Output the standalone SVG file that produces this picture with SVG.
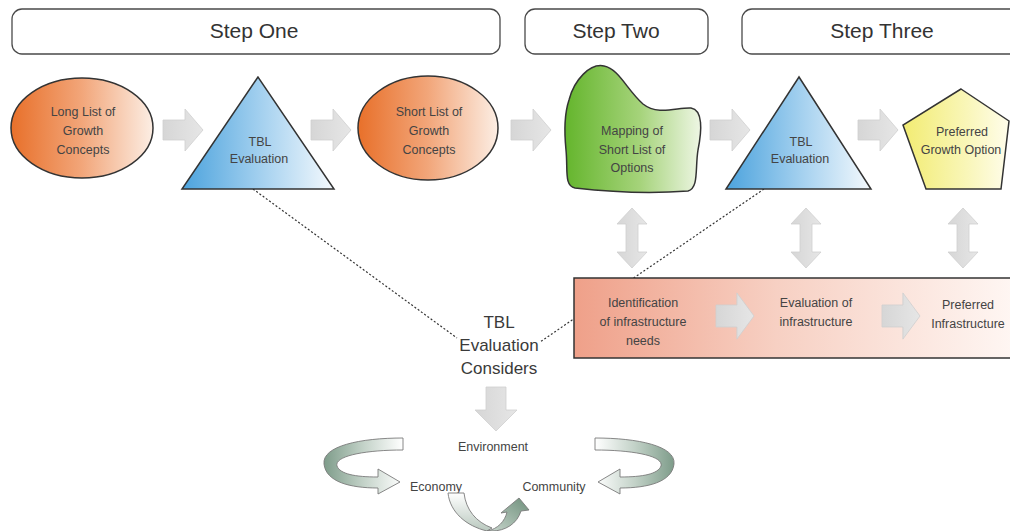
<svg xmlns="http://www.w3.org/2000/svg" width="1010" height="531" viewBox="0 0 1010 531">
  <defs>
    <linearGradient id="gOrange" x1="0" y1="0" x2="1" y2="0">
      <stop offset="0" stop-color="#E8702A"/>
      <stop offset="0.5" stop-color="#F2A67A"/>
      <stop offset="1" stop-color="#FCEEE4"/>
    </linearGradient>
    <linearGradient id="gBlue" x1="0" y1="0" x2="1" y2="0">
      <stop offset="0" stop-color="#4CA3DD"/>
      <stop offset="0.55" stop-color="#A9D3F0"/>
      <stop offset="1" stop-color="#F4F9FD"/>
    </linearGradient>
    <linearGradient id="gGreen" x1="0" y1="0" x2="1" y2="0">
      <stop offset="0" stop-color="#64B52C"/>
      <stop offset="0.55" stop-color="#A5D37A"/>
      <stop offset="1" stop-color="#EEF6E4"/>
    </linearGradient>
    <linearGradient id="gYellow" x1="0" y1="0" x2="1" y2="0">
      <stop offset="0" stop-color="#F2EC72"/>
      <stop offset="0.6" stop-color="#F9F6B8"/>
      <stop offset="1" stop-color="#FFFDEB"/>
    </linearGradient>
    <linearGradient id="gPink" x1="0" y1="0" x2="1" y2="0">
      <stop offset="0" stop-color="#EFA089"/>
      <stop offset="0.45" stop-color="#F7D0C3"/>
      <stop offset="1" stop-color="#FFF8F5"/>
    </linearGradient>
    <linearGradient id="gArrow" x1="0" y1="0" x2="1" y2="0">
      <stop offset="0" stop-color="#D6D6D6"/>
      <stop offset="1" stop-color="#E6E6E6"/>
    </linearGradient>
    <linearGradient id="gRibbon" x1="0" y1="0" x2="1" y2="0">
      <stop offset="0" stop-color="#7E9C8A"/>
      <stop offset="0.5" stop-color="#C3D2C8"/>
      <stop offset="1" stop-color="#FFFFFF"/>
    </linearGradient>
    <linearGradient id="gRibbonLight" x1="0" y1="0" x2="0" y2="1">
      <stop offset="0" stop-color="#FFFFFF"/>
      <stop offset="1" stop-color="#B9C8BE"/>
    </linearGradient>
    <linearGradient id="gRibbonDark" x1="0" y1="1" x2="1" y2="0">
      <stop offset="0" stop-color="#C9D6CD"/>
      <stop offset="1" stop-color="#6F907C"/>
    </linearGradient>
    <!-- flow arrow, pointing right, origin at tail centre -->
    <path id="hArrow" d="M0,-10 L22,-10 L22,-21 L40,0 L22,21 L22,10 L0,10 Z"/>
    <!-- two-way vertical arrow, origin at centre -->
    <path id="vArrow" d="M0,-30 L15,-14 L6,-14 L6,14 L15,14 L0,30 L-15,14 L-6,14 L-6,-14 L-15,-14 Z"/>
  </defs>
  <style>
    .step { fill: #FFFFFF; stroke: #4A4A4A; stroke-width: 1.3; }
    .shape { stroke: #333333; stroke-width: 1.5; }
    .txt { font-family: "Liberation Sans", Arial, sans-serif; fill: #444444; text-anchor: middle; }
    .stepTxt { font-size: 21px; fill: #333333; }
    .nodeTxt { font-size: 12.5px; }
    .big { font-size: 17px; fill: #3A3A3A; }
    .flow { fill: url(#gArrow); stroke: #CFCFCF; stroke-width: 0.8; }
    .dotted { fill: none; stroke: #333333; stroke-width: 1.2; stroke-dasharray: 2 2; }
    .ribbon { stroke: #7A7A7A; stroke-width: 0.9; }
  </style>

  <rect width="1010" height="531" fill="#FFFFFF"/>

  <!-- connectors: dotted links, flow arrows -->
  <g id="connectors">
    <line class="dotted" x1="253" y1="189" x2="457" y2="338"/>
    <line class="dotted" x1="764" y1="189" x2="540" y2="342"/>
    <use href="#hArrow" class="flow" x="163" y="130"/>
    <use href="#hArrow" class="flow" x="311" y="130"/>
    <use href="#hArrow" class="flow" x="511" y="130"/>
    <use href="#hArrow" class="flow" x="710" y="130"/>
    <use href="#hArrow" class="flow" x="858" y="130"/>
    <use href="#vArrow" class="flow" x="632" y="238"/>
    <use href="#vArrow" class="flow" x="806" y="238"/>
    <use href="#vArrow" class="flow" x="963" y="238"/>
    <path class="flow" d="M486,387 L506,387 L506,410 L517,410 L496,431 L475,410 L486,410 Z"/>
  </g>

  <!-- step headers -->
  <g id="step-one">
    <rect class="step" x="12" y="9" width="488" height="45" rx="10"/>
    <text class="txt stepTxt" x="254" y="38">Step One</text>
  </g>
  <g id="step-two">
    <rect class="step" x="525" y="9" width="183" height="45" rx="10"/>
    <text class="txt stepTxt" x="616" y="38">Step Two</text>
  </g>
  <g id="step-three">
    <rect class="step" x="742" y="9" width="290" height="45" rx="10"/>
    <text class="txt stepTxt" x="882" y="38">Step Three</text>
  </g>

  <!-- step one -->
  <g id="long-list">
    <ellipse class="shape" cx="82" cy="128" rx="71" ry="50" fill="url(#gOrange)"/>
    <text class="txt nodeTxt" x="83" y="116">Long List of</text>
    <text class="txt nodeTxt" x="83" y="135">Growth</text>
    <text class="txt nodeTxt" x="83" y="154">Concepts</text>
  </g>
  <g id="tbl-evaluation-1">
    <polygon class="shape" points="258,77 182,189 334,189" fill="url(#gBlue)"/>
    <text class="txt nodeTxt" x="260" y="146">TBL</text>
    <text class="txt nodeTxt" x="259" y="163">Evaluation</text>
  </g>
  <g id="short-list">
    <ellipse class="shape" cx="428" cy="128" rx="70" ry="52" fill="url(#gOrange)"/>
    <text class="txt nodeTxt" x="429" y="116">Short List of</text>
    <text class="txt nodeTxt" x="429" y="135">Growth</text>
    <text class="txt nodeTxt" x="429" y="154">Concepts</text>
  </g>

  <!-- step two -->
  <g id="mapping">
    <path class="shape" fill="url(#gGreen)" d="M569,100 C574,80 590,63 604,66 C619,69 627,90 643,104 C658,116 678,107 691,108 C703,110 702,130 698,150 C695,168 699,188 688,191 C650,194 610,192 575,188 C564,186 568,170 566,150 C564,130 564,115 569,100 Z"/>
    <text class="txt nodeTxt" x="632" y="135" fill="#3D5A2C">Mapping of</text>
    <text class="txt nodeTxt" x="632" y="154" fill="#3D5A2C">Short List of</text>
    <text class="txt nodeTxt" x="632" y="172" fill="#3D5A2C">Options</text>
  </g>

  <!-- step three -->
  <g id="tbl-evaluation-2">
    <polygon class="shape" points="799,77 726,189 871,189" fill="url(#gBlue)"/>
    <text class="txt nodeTxt" x="801" y="146">TBL</text>
    <text class="txt nodeTxt" x="800" y="163">Evaluation</text>
  </g>
  <g id="preferred-growth">
    <polygon class="shape" points="961,89 1009,121 1001,189 926,189 903,125" fill="url(#gYellow)"/>
    <text class="txt nodeTxt" x="962" y="136">Preferred</text>
    <text class="txt nodeTxt" x="961" y="154">Growth Option</text>
  </g>

  <!-- infrastructure band -->
  <g id="infrastructure">
    <rect class="shape" x="574" y="278" width="450" height="80" fill="url(#gPink)" stroke="#444444"/>
    <use href="#hArrow" class="flow" x="716" y="316" transform="translate(716,316) scale(0.95,1.1) translate(-716,-316)"/>
    <use href="#hArrow" class="flow" x="882" y="316" transform="translate(882,316) scale(0.95,1.1) translate(-882,-316)"/>
    <text class="txt nodeTxt" x="643" y="307">Identification</text>
    <text class="txt nodeTxt" x="643" y="326">of infrastructure</text>
    <text class="txt nodeTxt" x="643" y="345">needs</text>
    <text class="txt nodeTxt" x="816" y="307">Evaluation of</text>
    <text class="txt nodeTxt" x="816" y="326">infrastructure</text>
    <text class="txt nodeTxt" x="968" y="309">Preferred</text>
    <text class="txt nodeTxt" x="968" y="328">Infrastructure</text>
  </g>

  <!-- TBL considerations -->
  <g id="tbl-considers">
    <text class="txt big" x="499" y="328">TBL</text>
    <text class="txt big" x="499" y="351">Evaluation</text>
    <text class="txt big" x="499" y="374">Considers</text>
  </g>

  <g id="environment">
    <text class="txt nodeTxt" x="493" y="451">Environment</text>
  </g>
  <g id="economy">
    <text class="txt nodeTxt" x="436" y="491">Economy</text>
  </g>
  <g id="community">
    <text class="txt nodeTxt" x="554" y="491">Community</text>
  </g>

  <!-- cycle ribbons -->
  <g id="cycle">
    <path class="ribbon" fill="url(#gRibbon)" d="M403,438 C360,438 322,446 324,464 C326,482 350,488 378,488 L378,494 L400,482 L378,469 L378,477 C355,477 340,474 337,466 C334,456 365,450 403,450 Z"/>
    <path class="ribbon" fill="url(#gRibbon)" transform="translate(998,0) scale(-1,1)" d="M403,438 C360,438 322,446 324,464 C326,482 350,488 378,488 L378,494 L400,482 L378,469 L378,477 C355,477 340,474 337,466 C334,456 365,450 403,450 Z"/>
    <path class="ribbon" fill="url(#gRibbonLight)" d="M448,493 L464,493 C466,510 476,522 492,528 L487,531 C466,526 450,512 448,493 Z"/>
    <path class="ribbon" fill="url(#gRibbonDark)" d="M487,531 C498,529 505,521 507,512 L501,513 L519,498 L529,510 L521,511 C517,524 505,531 492,531 Z"/>
  </g>
</svg>
